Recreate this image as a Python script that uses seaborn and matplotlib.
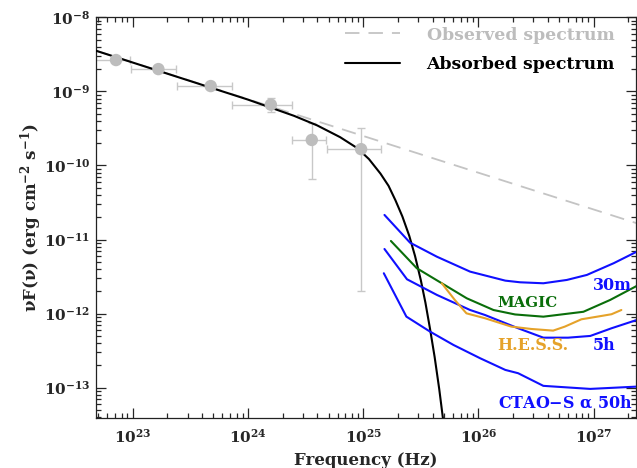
import numpy as np
import pandas as pd
import matplotlib
matplotlib.use("Agg")
import matplotlib.pyplot as plt
from matplotlib.ticker import NullFormatter
import seaborn as sns

# ---------------- data ----------------
# Observed (unabsorbed) power-law spectrum
nu_obs = [4.80e22, 2.37e27]
f_obs = [3.54e-9, 1.66e-11]

# Absorbed spectrum
nu_abs = [4.80e22, 1.00e24, 2.51e24, 3.98e24, 6.31e24, 8.91e24, 1.122e25, 1.413e25,
          1.660e25, 1.905e25, 2.188e25, 2.512e25, 2.818e25, 3.162e25, 3.467e25,
          3.802e25, 4.169e25, 4.571e25, 5.012e25]
f_abs = [3.54e-9, 7.75e-10, 4.68e-10, 3.48e-10, 2.41e-10, 1.71e-10, 1.22e-10, 7.76e-11,
         5.31e-11, 3.39e-11, 2.05e-11, 1.12e-11, 6.00e-12, 2.84e-12, 1.41e-12,
         6.24e-13, 2.60e-13, 9.57e-14, 3.09e-14]

# Measured points with errors
nu_pts = [7.16e22, 1.67e23, 4.75e23, 1.58e24, 3.58e24, 9.59e24]
f_pts = [2.65e-9, 2.00e-9, 1.18e-9, 6.62e-10, 2.21e-10, 1.66e-10]
nu_lo = [4.60e22, 9.62e22, 2.41e23, 7.23e23, 2.40e24, 4.83e24]
nu_hi = [9.48e22, 2.38e23, 7.23e23, 2.40e24, 4.76e24, 1.42e25]
f_lo = [2.50e-9, 1.88e-9, 1.10e-9, 5.32e-10, 6.52e-11, 2.04e-12]
f_hi = [2.80e-9, 2.12e-9, 1.26e-9, 8.15e-10, 3.78e-10, 3.24e-10]

# CTAO-S sensitivities
nu_30m = [1.53e25, 2.55e25, 4.36e25, 8.47e25, 1.71e26, 2.30e26, 3.66e26, 5.85e26, 8.73e26, 1.49e27, 2.37e27]
f_30m = [2.15e-11, 9.08e-12, 5.87e-12, 3.69e-12, 2.79e-12, 2.65e-12, 2.57e-12, 2.85e-12, 3.33e-12, 4.79e-12, 6.87e-12]

nu_5h = [1.53e25, 2.40e25, 4.36e25, 8.47e25, 1.14e26, 2.21e26, 3.66e26, 6.01e26, 9.35e26, 1.43e27, 2.37e27]
f_5h = [7.46e-12, 2.91e-12, 1.79e-12, 1.12e-12, 9.59e-13, 6.35e-13, 4.74e-13, 4.74e-13, 5.00e-13, 6.35e-13, 8.22e-13]

nu_50h = [1.51e25, 2.37e25, 3.81e25, 6.07e25, 1.035e26, 1.71e26, 2.21e26, 3.66e26, 9.33e26, 2.37e27]
f_50h = [3.51e-12, 9.12e-13, 5.71e-13, 3.78e-13, 2.50e-13, 1.74e-13, 1.57e-13, 1.06e-13, 9.64e-14, 1.035e-13]

# MAGIC
nu_magic = [1.74e25, 2.92e25, 4.81e25, 7.93e25, 1.35e26, 2.08e26, 3.66e26, 8.15e26, 1.39e27, 2.37e27]
f_magic = [9.57e-12, 4.10e-12, 2.57e-12, 1.61e-12, 1.12e-12, 9.75e-13, 9.10e-13, 1.06e-12, 1.53e-12, 2.37e-12]

# H.E.S.S.
nu_hess = [4.81e25, 6.24e25, 7.87e25, 1.14e26, 1.93e26, 2.88e26, 4.45e26, 5.62e26, 7.83e26, 1.17e27, 1.43e27, 1.74e27]
f_hess = [2.57e-12, 1.53e-12, 1.01e-12, 8.67e-13, 6.68e-13, 6.21e-13, 5.90e-13, 6.68e-13, 8.39e-13, 9.31e-13, 9.82e-13, 1.12e-12]

# ---------------- style ----------------
sns.set_style("ticks")
plt.rcParams.update({
    "font.family": ["DejaVu Serif"],
    "font.weight": "bold",
    "axes.labelweight": "bold",
    "mathtext.fontset": "custom",
    "mathtext.rm": "DejaVu Serif:bold",
    "mathtext.it": "DejaVu Serif:italic:bold",
    "mathtext.bf": "DejaVu Serif:bold",
    "mathtext.default": "regular",
    "axes.linewidth": 0.9,
    "axes.edgecolor": "#222222",
})

BLUE = "#1010ff"
GREEN = "#0a6e0a"
ORANGE = "#e5a22a"
GRAY = "#bdbdbd"

fig, ax = plt.subplots(figsize=(6.37, 4.68), dpi=100)
fig.subplots_adjust(left=0.1507, right=0.9984, bottom=0.1075, top=0.963)
ax.set_xscale("log")
ax.set_yscale("log")

def line(x, y, **kw):
    df = pd.DataFrame({"x": x, "y": y})
    sns.lineplot(data=df, x="x", y="y", ax=ax, sort=False, estimator=None, **kw)

line(nu_obs, f_obs, color="#c4c4c4", lw=1.3, linestyle=(0, (8, 5)), label="Observed spectrum", zorder=1)

# error bars
pts = pd.DataFrame({"nu": nu_pts, "f": f_pts})
xerr = [np.array(nu_pts) - np.array(nu_lo), np.array(nu_hi) - np.array(nu_pts)]
yerr = [np.array(f_pts) - np.array(f_lo), np.array(f_hi) - np.array(f_pts)]
ax.errorbar(nu_pts, f_pts, xerr=xerr, yerr=yerr, fmt="none", ecolor="#c8c8c8",
            elinewidth=1.0, capsize=3, capthick=1.0, zorder=2)

line(nu_abs, f_abs, color="black", lw=1.5, label="Absorbed spectrum", zorder=3)

sns.scatterplot(data=pts, x="nu", y="f", ax=ax, color=GRAY, s=80, edgecolor="none", zorder=4)

line(nu_30m, f_30m, color=BLUE, lw=1.5, zorder=3)
line(nu_5h, f_5h, color=BLUE, lw=1.5, zorder=3)
line(nu_50h, f_50h, color=BLUE, lw=1.5, zorder=3)
line(nu_magic, f_magic, color=GREEN, lw=1.5, zorder=3)
line(nu_hess, f_hess, color=ORANGE, lw=1.5, zorder=3)

ax.set_xlim(4.8e22, 2.33e27)
ax.set_ylim(3.94e-14, 1e-8)

ax.tick_params(which="both", direction="in", top=True, right=True, width=0.9)
ax.tick_params(which="major", length=7, labelsize=11)
ax.tick_params(axis="y", which="major", pad=4)
ax.tick_params(axis="x", which="major", pad=7)
ax.tick_params(which="minor", length=3.5)
ax.xaxis.set_minor_formatter(NullFormatter())
ax.yaxis.set_minor_formatter(NullFormatter())

ax.set_xlabel("Frequency (Hz)", fontsize=12, labelpad=5)
ax.set_ylabel(r"$\nu$F($\nu$) (erg cm$^{-2}$ s$^{-1}$)", fontsize=12, labelpad=0)

leg = ax.legend(loc="upper right", bbox_to_anchor=(0.961, 0.977), frameon=False,
                fontsize=12.4, handlelength=3.2, handletextpad=1.55, labelspacing=0.72,
                borderpad=0, borderaxespad=0)
leg.get_texts()[0].set_color("#bdbdbd")
leg.get_texts()[1].set_color("black")

tkw = dict(transform=ax.transAxes, fontsize=11.5, va="center", ha="left")
ax.text(0.920, 0.329, "30m", color=BLUE, **tkw)
ax.text(0.744, 0.287, "MAGIC", color=GREEN, transform=ax.transAxes, fontsize=10.8, va="center", ha="left")
ax.text(0.744, 0.180, "H.E.S.S.", color=ORANGE, **tkw)
ax.text(0.920, 0.180, "5h", color=BLUE, **tkw)
ax.text(0.744, 0.0375, r"CTAO$-$S $\alpha$ 50h", color=BLUE, **tkw)

fig.savefig("out.png", dpi=100)
